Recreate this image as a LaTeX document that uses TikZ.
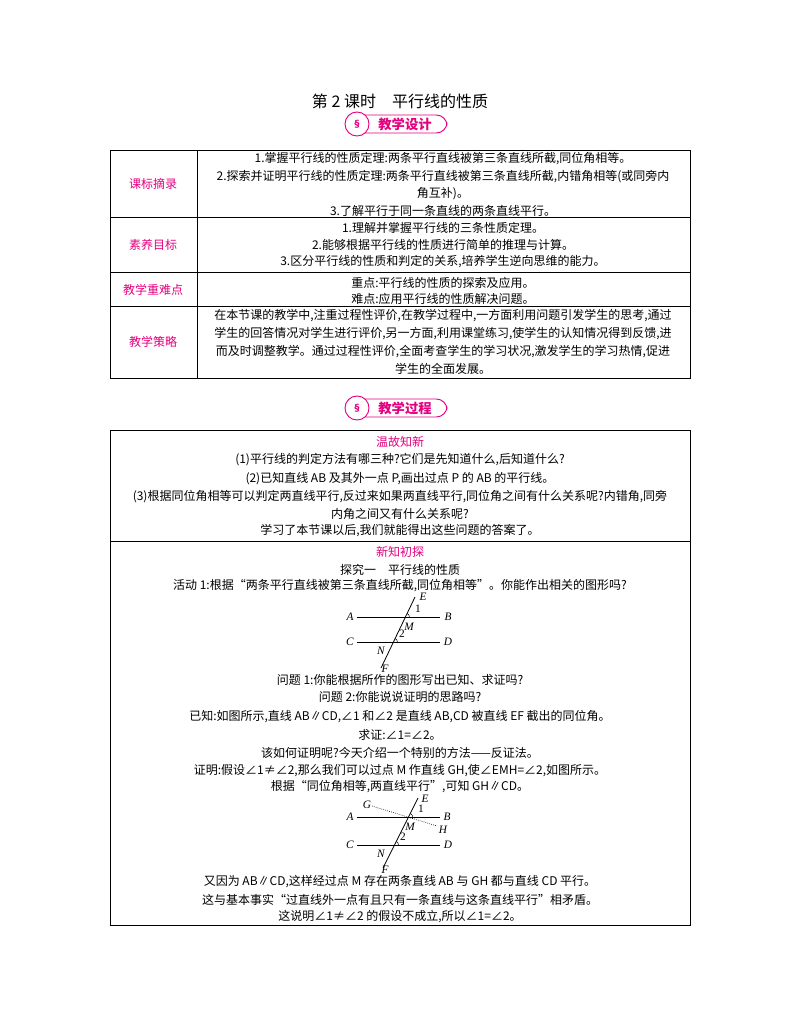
\documentclass[tikz,border=0pt]{standalone}
\usepackage{fontspec}
\usetikzlibrary{calc}
\setmainfont{Noto Sans CJK SC}
\newfontfamily\geo{Liberation Serif}
\begin{document}
\begin{tikzpicture}[x=0.75pt,y=-0.75pt,
 t/.style={inner sep=0pt,font=\fontsize{9}{10}\selectfont,anchor=center},
 pk/.style={t,text=pinkc},
 lb/.style={inner sep=0pt,font=\geo\itshape\fontsize{8.5}{9}\selectfont},
 nm/.style={inner sep=0pt,font=\geo\fontsize{8.5}{9}\selectfont},
 ln/.style={line width=0.6pt},
 grid/.style={line width=0.6pt}]
\definecolor{pinkc}{RGB}{228,0,127}
\useasboundingbox (0,0) rectangle (800,1024);
\node[inner sep=0pt,font=\fontsize{12}{13}\selectfont] (title) at (400,101) {第 2 课时\quad 平行线的性质};
% badge 1
\draw[pinkc,line width=0.7pt,rounded corners=8pt] (350,115) rectangle (447,133);
\node[circle,draw=pinkc,fill=white,line width=0.7pt,minimum size=18pt,inner sep=0pt] (ic1) at (357,124) {};
\node[inner sep=0pt,text=pinkc,font=\bfseries\fontsize{7}{8}\selectfont] at (ic1) {\char"00A7};
\node[inner sep=0pt,text=pinkc,font=\bfseries\fontsize{10}{11}\selectfont] (b1) at (405,124) {教学设计};
% table 1
\draw[grid] (110,150) rectangle (690,378);
\draw[grid] (197,150) -- (197,378);
\draw[grid] (110,217) -- (690,217);
\draw[grid] (110,272) -- (690,272);
\draw[grid] (110,306) -- (690,306);
\node[pk] (l1) at (153,184) {课标摘录};
\node[pk] (l2) at (153,245) {素养目标};
\node[pk] (l3) at (153,290) {教学重难点};
\node[pk] (l4) at (153,342) {教学策略};
\node[t] (r1a) at (443,159) {1.掌握平行线的性质定理:两条平行直线被第三条直线所截,同位角相等。};
\node[t] (r1b) at (443,177) {2.探索并证明平行线的性质定理:两条平行直线被第三条直线所截,内错角相等(或同旁内};
\node[t] (r1c) at (443,194) {角互补)。};
\node[t] (r1d) at (443,211) {3.了解平行于同一条直线的两条直线平行。};
\node[t] (r2a) at (443,228) {1.理解并掌握平行线的三条性质定理。};
\node[t] (r2b) at (443,245) {2.能够根据平行线的性质进行简单的推理与计算。};
\node[t] (r2c) at (443,262) {3.区分平行线的性质和判定的关系,培养学生逆向思维的能力。};
\node[t] (r3a) at (443,283) {重点:平行线的性质的探索及应用。};
\node[t] (r3b) at (443,299) {难点:应用平行线的性质解决问题。};
\node[t] (r4a) at (443,316) {在本节课的教学中,注重过程性评价,在教学过程中,一方面利用问题引发学生的思考,通过};
\node[t] (r4b) at (443,334) {学生的回答情况对学生进行评价,另一方面,利用课堂练习,使学生的认知情况得到反馈,进};
\node[t] (r4c) at (443,352) {而及时调整教学。通过过程性评价,全面考查学生的学习状况,激发学生的学习热情,促进};
\node[t] (r4d) at (443,369) {学生的全面发展。};
% badge 2
\draw[pinkc,line width=0.7pt,rounded corners=8pt] (350,399) rectangle (447,417);
\node[circle,draw=pinkc,fill=white,line width=0.7pt,minimum size=18pt,inner sep=0pt] (ic2) at (357,408) {};
\node[inner sep=0pt,text=pinkc,font=\bfseries\fontsize{7}{8}\selectfont] at (ic2) {\char"00A7};
\node[inner sep=0pt,text=pinkc,font=\bfseries\fontsize{10}{11}\selectfont] (b2) at (405,408) {教学过程};
% table 2
\draw[grid] (110,430) rectangle (690,925);
\draw[grid] (110,541) -- (690,541);
\node[pk] (s1) at (400,442) {温故知新};
\node[t] (q1) at (400,460) {(1)平行线的判定方法有哪三种?它们是先知道什么,后知道什么?};
\node[t] (q2) at (400,479) {(2)已知直线 AB 及其外一点 P,画出过点 P 的 AB 的平行线。};
\node[t] (q3) at (400,497) {(3)根据同位角相等可以判定两直线平行,反过来如果两直线平行,同位角之间有什么关系呢?内错角,同旁};
\node[t] (q4) at (400,514) {内角之间又有什么关系呢?};
\node[t] (q5) at (400,531) {学习了本节课以后,我们就能得出这些问题的答案了。};
\node[pk] (s2) at (400,552) {新知初探};
\node[t] (p1) at (400,570) {探究一\quad 平行线的性质};
\node[t] (p2) at (400,586) {活动 1:根据“两条平行直线被第三条直线所截,同位角相等”。你能作出相关的图形吗?};
% figure 1
\coordinate (A1) at (357,617); \coordinate (B1) at (440,617);
\coordinate (C1) at (357,642); \coordinate (D1) at (440,642);
\coordinate (E1) at (415,597); \coordinate (F1) at (381,668);
\coordinate (M1) at (405.4,617); \coordinate (N1) at (393.4,642);
\draw[ln] (A1) -- (B1); \draw[ln] (C1) -- (D1); \draw[ln] (E1) -- (F1);
\draw[line width=0.4pt] ($(M1)+(4,0)$) arc (0:-64:4);
\draw[line width=0.4pt] ($(N1)+(4,0)$) arc (0:-64:4);
\node[lb] (nA1) at (350,617) {A}; \node[lb] (nB1) at (448,617) {B};
\node[lb] (nC1) at (350,642) {C}; \node[lb] (nD1) at (448,642) {D};
\node[lb] (nE1) at (423,597) {E}; \node[lb] (nF1) at (385,669) {F};
\node[lb] (nM1) at (409,627) {M}; \node[lb] (nN1) at (381,651) {N};
\node[nm] (n11) at (418,609) {1};
\node[nm] (n21) at (402,634) {2};
\node[t] (p3) at (400,680) {问题 1:你能根据所作的图形写出已知、求证吗?};
\node[t] (p4) at (400,697) {问题 2:你能说说证明的思路吗?};
\node[t] (p5) at (400,717) {已知:如图所示,直线 AB∥CD,∠1 和∠2 是直线 AB,CD 被直线 EF 截出的同位角。};
\node[t] (p6) at (400,735) {求证:∠1=∠2。};
\node[t] (p7) at (400,753) {该如何证明呢?今天介绍一个特别的方法——反证法。};
\node[t] (p8) at (400,771) {证明:假设∠1≠∠2,那么我们可以过点 M 作直线 GH,使∠EMH=∠2,如图所示。};
\node[t] (p9) at (400,787) {根据“同位角相等,两直线平行”,可知 GH∥CD。};
% figure 2
\coordinate (A2) at (357,817); \coordinate (B2) at (440,817);
\coordinate (C2) at (357,845); \coordinate (D2) at (440,845);
\coordinate (E2) at (418,798); \coordinate (F2) at (383,868);
\coordinate (M2) at (408.5,817); \coordinate (N2) at (394.5,845);
\coordinate (G2) at (372,806); \coordinate (H2) at (437,826);
\draw[ln] (A2) -- (B2); \draw[ln] (C2) -- (D2); \draw[ln] (E2) -- (F2);
\draw[line width=0.5pt,densely dotted] (G2) -- (H2);
\draw[line width=0.4pt] ($(M2)+(4,1.2)$) arc (17:-63:4);
\draw[line width=0.4pt] ($(N2)+(4,0)$) arc (0:-63:4);
\node[lb] (nA2) at (350,817) {A}; \node[lb] (nB2) at (447,817) {B};
\node[lb] (nC2) at (350,845) {C}; \node[lb] (nD2) at (448,845) {D};
\node[lb] (nE2) at (425,799) {E}; \node[lb] (nF2) at (385,870) {F};
\node[lb] (nG2) at (367,805) {G}; \node[lb] (nH2) at (443,830) {H};
\node[lb] (nM2) at (410,827) {M}; \node[lb] (nN2) at (381,854) {N};
\node[nm] (n12) at (421,809) {1};
\node[nm] (n22) at (403,837) {2};
\node[t] (p10) at (400,882) {又因为 AB∥CD,这样经过点 M 存在两条直线 AB 与 GH 都与直线 CD 平行。};
\node[t] (p11) at (400,900) {这与基本事实“过直线外一点有且只有一条直线与这条直线平行”相矛盾。};
\node[t] (p12) at (400,917) {这说明∠1≠∠2 的假设不成立,所以∠1=∠2。};
\end{tikzpicture}
\end{document}
